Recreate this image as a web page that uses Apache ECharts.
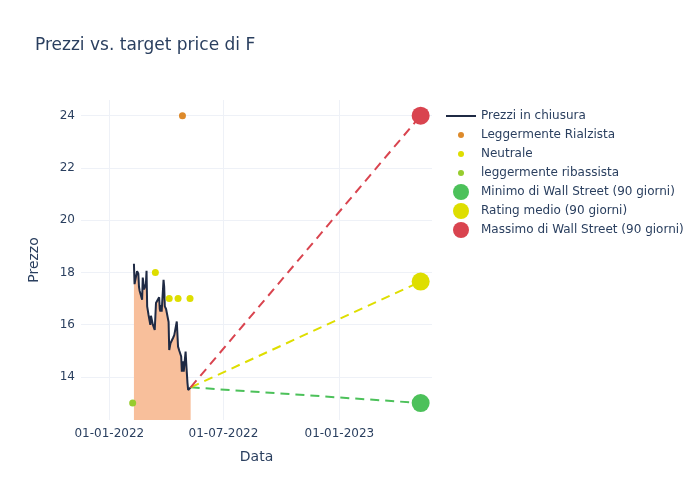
<!DOCTYPE html>
<html>
<head>
<meta charset="utf-8">
<script src="https://cdn.jsdelivr.net/npm/echarts@6/dist/echarts.min.js"></script>
<style>html,body{margin:0;padding:0;background:#fff}#c{width:700px;height:500px}</style>
</head>
<body>
<div id="c"></div>
<script>
const priceDates = ["2022-02-09","2022-02-10","2022-02-11","2022-02-14","2022-02-15","2022-02-16","2022-02-17","2022-02-18","2022-02-22","2022-02-23","2022-02-24","2022-02-25","2022-02-28","2022-03-01","2022-03-02","2022-03-03","2022-03-04","2022-03-07","2022-03-08","2022-03-09","2022-03-10","2022-03-11","2022-03-14","2022-03-15","2022-03-16","2022-03-17","2022-03-18","2022-03-21","2022-03-22","2022-03-23","2022-03-24","2022-03-25","2022-03-28","2022-03-29","2022-03-30","2022-03-31","2022-04-01","2022-04-04","2022-04-05","2022-04-06","2022-04-07","2022-04-08","2022-04-11","2022-04-12","2022-04-13","2022-04-14","2022-04-18","2022-04-19","2022-04-20","2022-04-21","2022-04-22","2022-04-25","2022-04-26","2022-04-27","2022-04-28","2022-04-29","2022-05-02","2022-05-03","2022-05-04","2022-05-05","2022-05-06","2022-05-09","2022-05-10"];
const prices = [18.33,17.55,17.5,18.05,18.0,17.95,17.45,17.3,16.95,17.8,17.6,17.35,17.55,18.06,16.7,16.75,16.4,15.99,16.34,16.35,16.3,16.0,15.8,16.3,16.83,16.8,16.85,17.05,16.6,16.5,16.75,16.5,17.72,17.45,16.7,16.7,16.6,16.65,16.1,15.03,15.1,15.29,15.35,15.49,15.55,15.6,16.12,16.1,15.16,15.15,15.0,14.78,14.2,14.25,14.6,14.2,14.97,14.52,14.55,13.76,13.5,13.44,13.6];

const rialzistaDates = ["2022-04-27"];
const rialzistaValues = [24];
const neutraleDates = ["2022-03-15","2022-04-06","2022-04-20","2022-05-09"];
const neutraleValues = [18,17,17,17];
const ribassistaDates = ["2022-02-07"];
const ribassistaValues = [13];

const lastDate = "2022-05-10";
const lastPrice = 13.6;
const targetDate = "2023-05-10";
const targetMin = 13.0;
const targetAvg = 17.65;
const targetMax = 24.0;

const pair = (d, v) => d.map((x, i) => [x, v[i]]);
const textColor = '#2a3f5f';
const font = 'DejaVu Sans';

const chart = echarts.init(document.getElementById('c'), null, {renderer: 'canvas'});
const dash = (name, color, target) => ({
  name: name + '_line', type: 'line', data: [[lastDate, lastPrice], [targetDate, target]],
  symbol: 'none', lineStyle: {color: color, width: 2, type: [9, 6]}, z: 3, silent: true
});
const legendText = {fontFamily: font, fontSize: 12, color: textColor};
chart.setOption({
  animation: false,
  textStyle: {fontFamily: font},
  title: {text: 'Prezzi vs. target price di F', left: 35, top: 37, padding: 0,
    textStyle: {fontFamily: font, fontSize: 17, fontWeight: 'normal', color: textColor}},
  grid: {left: 81, right: 268, top: 100, bottom: 80},
  xAxis: {
    type: 'time', min: '2021-11-17', max: '2023-05-28', splitNumber: 3,
    name: 'Data', nameLocation: 'middle', nameGap: 30,
    nameTextStyle: {fontFamily: font, fontSize: 14, color: textColor},
    axisLine: {show: false}, axisTick: {show: false},
    axisLabel: {fontFamily: font, fontSize: 12, color: textColor, margin: 8,
      formatter: function (v) { const d = new Date(v); const dd = String(d.getDate()).padStart(2,'0'); const mm = String(d.getMonth()+1).padStart(2,'0'); return dd + '-' + mm + '-' + d.getFullYear(); }},
    splitLine: {show: true, showMinLine: false, showMaxLine: false, lineStyle: {color: '#eef1f7', width: 1}}
  },
  yAxis: {
    type: 'value', min: 12.35, max: 24.6,
    name: 'Prezzo', nameLocation: 'middle', nameGap: 40, nameRotate: 90,
    nameTextStyle: {fontFamily: font, fontSize: 14, color: textColor},
    axisLine: {show: false}, axisTick: {show: false},
    axisLabel: {fontFamily: font, fontSize: 12, color: textColor, margin: 6, showMinLabel: false, showMaxLabel: false},
    splitLine: {show: true, showMinLine: false, showMaxLine: false, lineStyle: {color: '#eef1f7', width: 1}}
  },
  legend: [
    {left: 446, top: 110, padding: 0, orient: 'vertical', itemWidth: 30, itemHeight: 14,
      textStyle: legendText,
      data: [{name: 'Prezzi in chiusura', icon: 'path://M0,0 L30,0 L30,2 L0,2 Z'}]},
    {left: 458, top: 129, padding: 0, orient: 'vertical', itemWidth: 30, itemHeight: 6, itemGap: 7,
      textStyle: legendText,
      data: [{name: 'Leggermente Rialzista', icon: 'circle'}, {name: 'Neutrale', icon: 'circle'}, {name: 'leggermente ribassista', icon: 'circle'}]},
    {left: 453, top: 184, padding: 0, orient: 'vertical', itemWidth: 30, itemHeight: 16, itemGap: 3,
      textStyle: legendText,
      data: [{name: 'Minimo di Wall Street (90 giorni)', icon: 'circle'}, {name: 'Rating medio (90 giorni)', icon: 'circle'}, {name: 'Massimo di Wall Street (90 giorni)', icon: 'circle'}]}
  ],
  series: [
    {name: 'Prezzi in chiusura', type: 'line', data: pair(priceDates, prices), symbol: 'none',
      lineStyle: {color: '#1f2a44', width: 2}, itemStyle: {color: '#1f2a44'},
      areaStyle: {color: '#f8bf9b', opacity: 1, origin: 'start'}, z: 2},
    dash('Minimo', '#4cc15a', targetMin),
    dash('Medio', '#dede00', targetAvg),
    dash('Massimo', '#d9444f', targetMax),
    {name: 'Leggermente Rialzista', type: 'scatter', data: pair(rialzistaDates, rialzistaValues), symbolSize: 7, itemStyle: {color: '#dd8a2b', opacity: 1}, z: 4},
    {name: 'Neutrale', type: 'scatter', data: pair(neutraleDates, neutraleValues), symbolSize: 7, itemStyle: {color: '#dede00', opacity: 1}, z: 4},
    {name: 'leggermente ribassista', type: 'scatter', data: pair(ribassistaDates, ribassistaValues), symbolSize: 7, itemStyle: {color: '#97cc2e', opacity: 1}, z: 4},
    {name: 'Minimo di Wall Street (90 giorni)', type: 'scatter', data: [[targetDate, targetMin]], symbolSize: 18, itemStyle: {color: '#4cc15a', opacity: 1}, z: 5},
    {name: 'Rating medio (90 giorni)', type: 'scatter', data: [[targetDate, targetAvg]], symbolSize: 18, itemStyle: {color: '#dede00', opacity: 1}, z: 5},
    {name: 'Massimo di Wall Street (90 giorni)', type: 'scatter', data: [[targetDate, targetMax]], symbolSize: 18, itemStyle: {color: '#d9444f', opacity: 1}, z: 5}
  ]
});
</script>
</body>
</html>
